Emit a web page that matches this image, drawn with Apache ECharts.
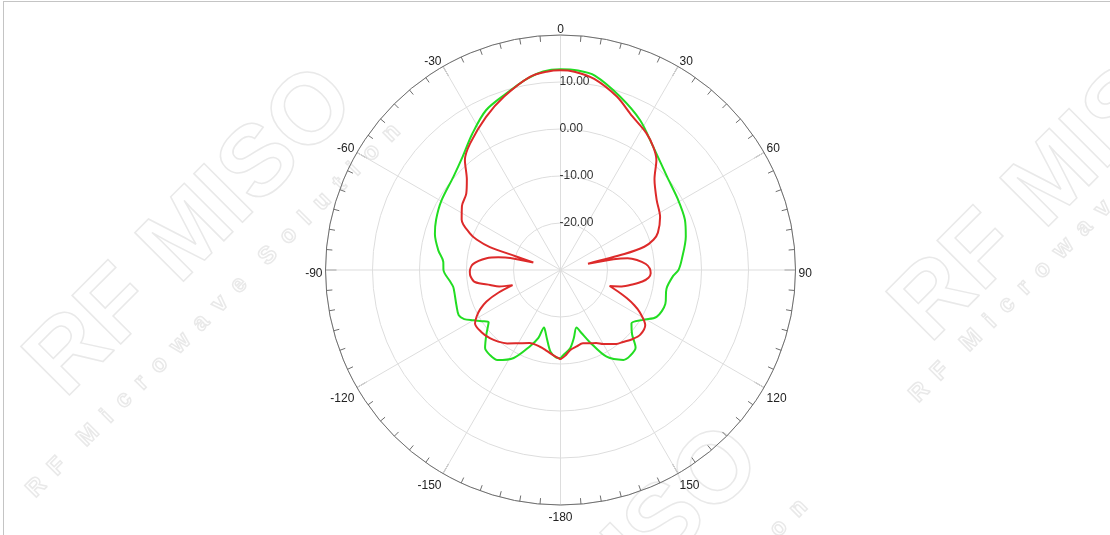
<!DOCTYPE html>
<html>
<head>
<meta charset="utf-8">
<script src="https://cdn.jsdelivr.net/npm/echarts@6/dist/echarts.min.js"></script>
<style>
  html, body { margin: 0; padding: 0; background: #fff; }
  #wrap { position: relative; width: 1110px; height: 535px; overflow: hidden; }
  #frame { position: absolute; left: 3px; top: 1px; right: 0; bottom: 0; border-top: 1px solid #c4c4c4; border-left: 1px solid #c4c4c4; }
  #chart { position: absolute; left: 0; top: 0; width: 1110px; height: 535px; }
</style>
</head>
<body>
<div id="wrap">
  <div id="chart"></div>
  <div id="frame"></div>
</div>
<script>
// angle ticks (degrees), radial rings (dB)
var angleTicks = [0, 30, 60, 90, 120, 150, -180, -150, -120, -90, -60, -30];
var ringValues = [-30, -20, -10, 0, 10, 20];

// green trace: angle (deg, clockwise from top) and gain (dB)
var greenAngle = [-180, -177, -173, -169, -166, -164, -162, -158, -152, -145, -140, -136, -131, -126, -123, -120, -117, -114, -109, -103, -99, -96, -90, -86, -81, -74, -68, -60, -49, -41, -33, -25, -17, -10, -5, 0, 5, 10, 19, 28, 37, 49, 59, 68, 75, 85, 90, 93, 100, 108, 116, 121, 127, 132, 136, 141, 145, 152, 158, 161.5, 164.5, 169, 173, 178, 180];
var greenGain = [-11.2, -11.4, -12.5, -15.0, -16.6, -17.3, -14.8, -12.4, -8.8, -6.6, -6.5, -6.9, -9.1, -11.1, -10.0, -8.6, -7.0, -6.3, -6.6, -6.9, -6.9, -6.4, -5.1, -5.0, -3.7, -2.2, -1.45, -0.7, 0.2, 1.8, 4.5, 7.5, 9.3, 11.3, 12.4, 12.7, 12.6, 12.0, 9.0, 6.1, 2.8, 0.1, -0.85, -1.45, -2.4, -4.1, -4.9, -6.0, -7.1, -6.55, -7.25, -9.4, -11.1, -9.5, -7.0, -6.5, -6.65, -9.1, -13.5, -15.8, -17.3, -15.2, -13.2, -11.9, -11.2];

// red trace
var redAngle = [-180, -175, -170, -165, -157, -150, -144, -139, -134, -128, -122, -119, -116, -113, -110, -107.5, -105, -102, -98, -94, -91, -86, -81, -78.5, -76.5, -74.5, -73, -72, -70, -68, -63, -57, -51, -46, -41, -35.5, -26, -18, -9, -4, 0, 4, 10, 18, 25, 32, 37, 41, 46, 54, 62, 69, 72, 74.5, 76, 77, 78.5, 80, 82.5, 86, 89, 92, 95, 98, 101, 105, 108, 111, 113, 115.5, 118, 123, 129, 134, 139, 143, 150, 154, 158, 163, 168, 173, 177, 180];
var redGain = [-11.0, -11.8, -12.6, -13.1, -13.1, -12.0, -10.7, -9.8, -9.1, -8.6, -8.55, -9.6, -11.0, -12.9, -16.0, -19.3, -16.5, -14.7, -11.6, -10.8, -10.7, -11.4, -14.1, -16.5, -19.0, -24.0, -20.0, -14.2, -11.0, -9.2, -6.4, -5.0, -4.2, -2.3, 1.0, 3.1, 6.2, 8.8, 11.6, 12.3, 12.5, 12.3, 11.3, 8.8, 6.1, 4.4, 2.8, 1.1, -2.2, -4.7, -6.0, -7.8, -9.2, -11.5, -16.0, -24.0, -18.5, -15.5, -13.6, -11.8, -11.0, -10.8, -11.2, -12.4, -14.2, -16.5, -19.0, -16.5, -14.7, -12.6, -10.9, -8.5, -8.15, -8.8, -9.7, -10.3, -11.8, -12.7, -13.2, -13.7, -13.4, -12.85, -11.7, -11.0];

// watermark pieces
var markTexts = ['RF MISO', 'R  F    M  i  c  r  o  w  a  v  e    S  o  l  u  t  i  o  n', 'RF MISO', 'R  F    M  i  c  r  o  w  a  v  e', 'MISO', 'o  n'];

function toAxisAngle(a) {
  return (a + 360) % 360;
}

function buildSeries(angles, gains) {
  return angles.map(function (a, i) {
    return [gains[i], toAxisAngle(a)];
  });
}

function angleLabel(v) {
  var d = v >= 180 ? v - 360 : v;
  return angleTicks.indexOf(d) >= 0 ? String(d) : '';
}

var chart = echarts.init(document.getElementById('chart'), null, { renderer: 'canvas' });

var wmStyle = function (txt, size) {
  return {
    text: txt,
    fill: 'rgba(0,0,0,0)',
    stroke: '#e9e9e9',
    lineWidth: 1.5,
    font: 'bold ' + size + 'px "Liberation Sans", Arial, sans-serif'
  };
};

var rot = Math.PI / 4;

var option = {
  animation: false,
  backgroundColor: 'transparent',
  textStyle: { fontFamily: '"Liberation Sans", Arial, sans-serif' },
  graphic: [
    { type: 'text', x: 10, y: 345, rotation: rot, style: wmStyle(markTexts[0], 100), z: -10, silent: true },
    { type: 'text', x: 22, y: 485, rotation: rot, style: wmStyle(markTexts[1], 24), z: -10, silent: true },
    { type: 'text', x: 875, y: 290, rotation: rot, style: wmStyle(markTexts[2], 100), z: -10, silent: true },
    { type: 'text', x: 905, y: 390, rotation: rot, style: wmStyle(markTexts[3], 24), z: -10, silent: true },
    { type: 'text', x: 530, y: 590, rotation: rot, style: wmStyle(markTexts[4], 100), z: -10, silent: true },
    { type: 'text', x: 765, y: 525, rotation: rot, style: wmStyle(markTexts[5], 24), z: -10, silent: true }
  ],
  polar: [
    { center: [560.5, 270], radius: 235 },
    // label ring, sits 3.5px lower as in the source plot
    { center: [560.5, 273.5], radius: 235 }
  ],
  angleAxis: [
    {
      polarIndex: 0,
      type: 'value',
      min: 0,
      max: 360,
      interval: 30,
      startAngle: 90,
      clockwise: true,
      axisLine: { show: true, lineStyle: { color: '#6e6e6e', width: 1 } },
      axisTick: { show: true, inside: true, length: 11, lineStyle: { color: '#6e6e6e' } },
      minorTick: { show: true, splitNumber: 6, length: 6, lineStyle: { color: '#6e6e6e' } },
      splitLine: { show: true, lineStyle: { color: '#dddddd', width: 1 } },
      axisLabel: { show: false }
    },
    {
      polarIndex: 1,
      type: 'value',
      min: 0,
      max: 360,
      interval: 30,
      startAngle: 90,
      clockwise: true,
      axisLine: { show: false },
      axisTick: { show: false },
      splitLine: { show: false },
      axisLabel: {
        margin: 3,
        color: '#222',
        fontSize: 12,
        formatter: angleLabel
      }
    }
  ],
  radiusAxis: [
    {
      polarIndex: 0,
      type: 'value',
      min: ringValues[0],
      max: ringValues[ringValues.length - 1],
      interval: 10,
      axisLine: { show: false },
      axisTick: { show: false },
      splitLine: { show: true, lineStyle: { color: '#dddddd', width: 1 } },
      axisLabel: {
        color: '#333',
        fontSize: 12,
        align: 'left',
        margin: 1,
        verticalAlign: 'middle',
        padding: [0, 0, 4, 0],
        formatter: function (v) {
          if (v === ringValues[0] || v === ringValues[ringValues.length - 1]) return '';
          return v.toFixed(2);
        }
      }
    },
    {
      polarIndex: 1,
      type: 'value',
      min: ringValues[0],
      max: ringValues[ringValues.length - 1],
      show: false
    }
  ],
  series: [
    {
      type: 'line',
      coordinateSystem: 'polar',
      polarIndex: 0,
      data: buildSeries(greenAngle, greenGain),
      smooth: 0.3,
      showSymbol: false,
      lineStyle: { color: '#22dd22', width: 2 },
      z: 3
    },
    {
      type: 'line',
      coordinateSystem: 'polar',
      polarIndex: 0,
      data: buildSeries(redAngle, redGain),
      smooth: 0.3,
      showSymbol: false,
      lineStyle: { color: '#dd2a2a', width: 2 },
      z: 4
    }
  ]
};

chart.setOption(option);
</script>
</body>
</html>
